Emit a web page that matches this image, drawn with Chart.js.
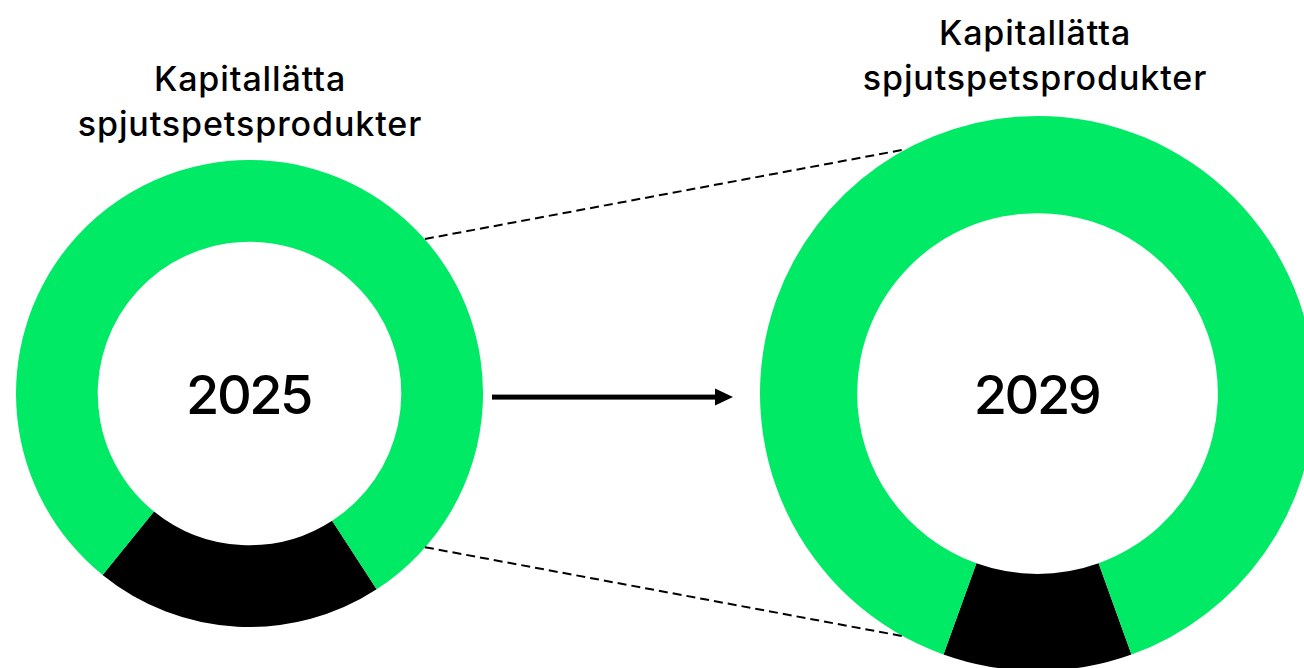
<!DOCTYPE html>
<html lang="sv">
<head>
<meta charset="utf-8">
<script src="https://cdn.jsdelivr.net/npm/chart.js@4.4.1/dist/chart.umd.min.js"></script>
<style>
  html, body { margin:0; padding:0; width:1304px; height:668px; overflow:hidden; background:#fff; }
  .box { position:absolute; }
  .title { position:absolute; font-family: Inter, "Noto Sans", sans-serif; font-weight:500; font-size:34px; letter-spacing:0.9px; line-height:45px; color:#000; text-align:center; white-space:nowrap; transform:translateX(-50%); }
  #overlay { position:absolute; left:0; top:0; pointer-events:none; }
</style>
</head>
<body>
<div class="title" id="t1" style="left:250px; top:56px;"></div>
<div class="title" id="t2" style="left:1035px; top:10px;"></div>
<div class="box" style="left:16px; top:159.6px; width:467px; height:467px;"><canvas id="c1"></canvas></div>
<div class="box" style="left:760px; top:115.5px; width:555px; height:555px;"><canvas id="c2"></canvas></div>
<canvas id="overlay" width="1304" height="668"></canvas>
<script>
// ---- data ----
const categories = ["Övriga produkter", "Kapitallätta spjutspetsprodukter"];
const years = ["2025", "2029"];
const shares2025 = [20, 80];
const shares2029 = [11, 89];
const titleLines = ["Kapitallätta", "spjutspetsprodukter"];
const colors = ["#000000", "#00EA66"];

document.getElementById('t1').innerHTML = titleLines.join('<br>');
document.getElementById('t2').innerHTML = titleLines.join('<br>');

const centerText = {
  id: 'centerText',
  afterDraw(chart, args, opts) {
    const arc = chart.getDatasetMeta(0).data[0];
    if (!arc) return;
    const ctx = chart.ctx;
    ctx.save();
    ctx.font = '500 54px Inter, "Noto Sans", sans-serif';
    if ('letterSpacing' in ctx) ctx.letterSpacing = '-2.5px';
    ctx.fillStyle = '#000';
    ctx.textAlign = 'center';
    ctx.textBaseline = 'middle';
    ctx.fillText(opts.text, arc.x - 1, arc.y + 4);
    ctx.restore();
  }
};

function makeChart(id, values, year, rotation) {
  return new Chart(document.getElementById(id), {
    type: 'doughnut',
    data: {
      labels: categories,
      datasets: [{ data: values, backgroundColor: colors, borderWidth: 0, hoverOffset: 0 }]
    },
    options: {
      responsive: true,
      maintainAspectRatio: false,
      animation: false,
      cutout: '65%',
      rotation: rotation,
      layout: { padding: 0 },
      plugins: { legend: { display: false }, tooltip: { enabled: false }, centerText: { text: year } },
      events: []
    },
    plugins: [centerText]
  });
}

const ch1 = makeChart('c1', shares2025, years[0], 147);
const ch2 = makeChart('c2', shares2029, years[1], 180 - shares2029[0] * 1.8);

function geom(chart) {
  const arc = chart.getDatasetMeta(0).data[0];
  const r = chart.canvas.getBoundingClientRect();
  return { x: r.left + arc.x, y: r.top + arc.y, R: arc.outerRadius };
}

function drawOverlay() {
  const g1 = geom(ch1), g2 = geom(ch2);
  const ctx = document.getElementById('overlay').getContext('2d');
  ctx.clearRect(0, 0, 1304, 668);
  const a1 = 41.3 * Math.PI / 180, a2 = 61.3 * Math.PI / 180;
  ctx.save();
  ctx.strokeStyle = '#000';
  ctx.lineWidth = 2;
  ctx.setLineDash([9, 5]);
  [-1, 1].forEach(s => {
    ctx.beginPath();
    ctx.moveTo(g1.x + g1.R * Math.cos(a1), g1.y + s * g1.R * Math.sin(a1));
    ctx.lineTo(g2.x - g2.R * Math.cos(a2), g2.y + s * g2.R * Math.sin(a2));
    ctx.stroke();
  });
  ctx.restore();
  // arrow
  const y = g1.y + 4;
  const x0 = g1.x + g1.R + 9, x1 = g2.x - g2.R - 27;
  ctx.save();
  ctx.fillStyle = '#000';
  ctx.fillRect(x0, y - 2.5, (x1 - 16) - x0, 5);
  ctx.beginPath();
  ctx.moveTo(x1 - 18, y - 8.5);
  ctx.lineTo(x1, y);
  ctx.lineTo(x1 - 18, y + 8.5);
  ctx.closePath();
  ctx.fill();
  ctx.restore();
}
drawOverlay();
</script>
</body>
</html>
